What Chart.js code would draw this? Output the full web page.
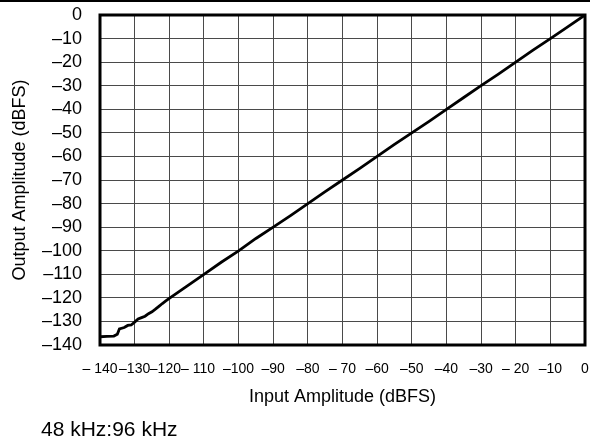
<!DOCTYPE html>
<html>
<head>
<meta charset="utf-8">
<script src="https://cdn.jsdelivr.net/npm/chart.js@4"></script>
<style>
  html, body { margin: 0; padding: 0; background: #fff; }
  #wrap { position: relative; width: 598px; height: 445px; }
  #topline { position: absolute; left: 0; top: 0; width: 590px; height: 2px; background: #000; }
  #note { position: absolute; left: 41px; top: 417px; font-family: "Liberation Sans", Arial, sans-serif; font-size: 21px; color: #000; white-space: nowrap; }
  canvas { position: absolute; left: 0; top: 0; }
</style>
</head>
<body>
<div id="wrap">
  <canvas id="c" width="598" height="445"></canvas>
  <div id="topline"></div>
  <div id="note">48 kHz:96 kHz</div>
</div>
<script>
// Data
const inputLevels = [-140, -138, -136, -135, -134.4, -133, -132, -131, -130, -129, -128, -127, -126, -125, -124, -123, -122, -121, -120,
  -115, -110, -105, -100, -95, -90, -85, -80, -75, -70, -65, -60, -55, -50, -45, -40, -35, -30, -25, -20, -15, -10, -5, 0];
const outputLevels = [-136.5, -136.3, -136.2, -135.4, -133.2, -132.6, -131.7, -131.5, -130.3, -129.0, -128.4, -127.8, -126.7, -125.9, -124.8, -123.6, -122.4, -121.3, -120.2,
  -115.1, -110.0, -104.9, -100.1, -94.8, -90.0, -85.1, -80.0, -74.9, -70.0, -65.1, -60.0, -54.9, -50.0, -45.1, -40.0, -35.0, -30.0, -25.1, -20.0, -14.9, -10.0, -5.0, 0];
const xTickLabels = ['\u2013 140', '\u2013130', '\u2013120\u2013', '110', '\u2013100', '\u201390', '\u201380', '\u2013 70', '\u201360', '\u201350', '\u201340', '\u201330', '\u2013 20', '\u201310', '0'];
const yTickLabels = ['\u2013140', '\u2013130', '\u2013120', '\u2013110', '\u2013100', '\u201390', '\u201380', '\u201370', '\u201360', '\u201350', '\u201340', '\u201330', '\u201320', '\u201310', '0'];
const xTitle = 'Input Amplitude (dBFS)';
const yTitle = 'Output Amplitude (dBFS)';

const points = inputLevels.map((x, i) => ({ x: x, y: outputLevels[i] }));

const frame = {
  id: 'frame',
  afterDatasetsDraw(chart) {
    const a = chart.chartArea;
    const ctx = chart.ctx;
    ctx.save();
    ctx.strokeStyle = '#000';
    ctx.lineWidth = 3;
    ctx.strokeRect(a.left, a.top, a.right - a.left, a.bottom - a.top);
    ctx.restore();
  }
};

new Chart(document.getElementById('c'), {
  type: 'line',
  data: {
    datasets: [{
      data: points,
      borderColor: '#000',
      borderWidth: 2.8,
      pointRadius: 0,
      tension: 0,
      fill: false
    }]
  },
  options: {
    responsive: false,
    animation: false,
    layout: { padding: { top: 15, right: 13, bottom: 30, left: 0 } },
    plugins: { legend: { display: false }, tooltip: { enabled: false } },
    scales: {
      x: {
        type: 'linear', min: -140, max: 0,
        afterFit: s => { s.height = 70; s.paddingLeft = 0; s.paddingRight = 0; },
        ticks: {
          stepSize: 10, autoSkip: false, maxRotation: 0, minRotation: 0,
          padding: 16, color: '#000',
          font: { family: '"Liberation Sans", Arial, sans-serif', size: 14 },
          callback: v => xTickLabels[Math.round((v + 140) / 10)]
        },
        grid: { color: '#4a4a4a', lineWidth: 1, drawTicks: false },
        border: { display: false },
        title: { display: true, text: xTitle, color: '#000', padding: { top: 0, bottom: 7 },
          font: { family: '"Liberation Sans", Arial, sans-serif', size: 18 } }
      },
      y: {
        type: 'linear', min: -140, max: 0,
        afterFit: s => { s.width = 100; s.paddingTop = 0; s.paddingBottom = 0; },
        ticks: {
          stepSize: 10, autoSkip: false, padding: 18, color: '#000',
          font: { family: '"Liberation Sans", Arial, sans-serif', size: 18 },
          callback: v => yTickLabels[Math.round((v + 140) / 10)]
        },
        grid: { color: '#4a4a4a', lineWidth: 1, drawTicks: false },
        border: { display: false },
        title: { display: true, text: yTitle, color: '#000', padding: { top: 9, bottom: 0 },
          font: { family: '"Liberation Sans", Arial, sans-serif', size: 18 } }
      }
    }
  },
  plugins: [frame]
});
</script>
</body>
</html>
